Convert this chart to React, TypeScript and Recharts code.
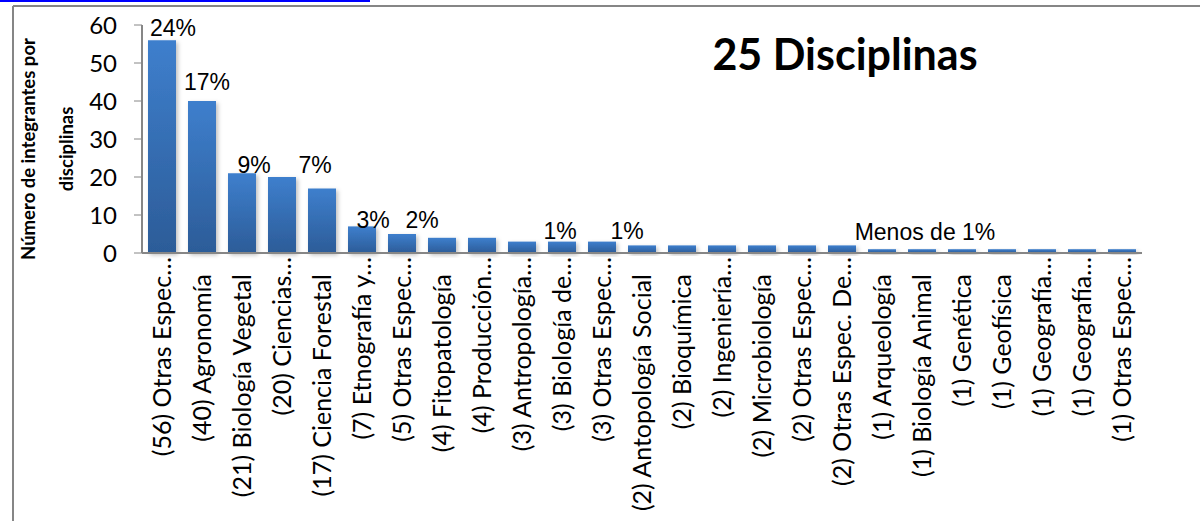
import { BarChart, Bar, XAxis, YAxis, LabelList } from 'recharts';

const disciplines = [
  '(56) Otras Espec…',
  '(40) Agronomía',
  '(21) Biología Vegetal',
  '(20) Ciencias…',
  '(17) Ciencia Forestal',
  '(7) Etnografía y…',
  '(5) Otras Espec…',
  '(4) Fitopatología',
  '(4) Producción…',
  '(3) Antropología…',
  '(3) Biología de…',
  '(3) Otras Espec…',
  '(2) Antopología Social',
  '(2) Bioquímica',
  '(2) Ingeniería…',
  '(2) Microbiología',
  '(2) Otras Espec…',
  '(2) Otras Espec. De…',
  '(1) Arqueología',
  '(1) Biología Animal',
  '(1) Genética',
  '(1) Geofísica',
  '(1) Geografía…',
  '(1) Geografía…',
  '(1) Otras Espec…',
];

const members = [56, 40, 21, 20, 17, 7, 5, 4, 4, 3, 3, 3, 2, 2, 2, 2, 2, 2, 1, 1, 1, 1, 1, 1, 1];

const shareLabels = [
  '24%', '17%', '9%', '', '7%', '3%', '2%', '', '', '', '1%', '1%', '',
  '', '', '', '', '', '', 'Menos de 1%', '', '', '', '', '',
];

const yTicks = [0, 10, 20, 30, 40, 50, 60];

const data = disciplines.map((name, i) => ({ name, value: members[i], share: shareLabels[i] }));

// hand-placed text boxes in the original, nudged off the bar top
const labelNudge: Record<number, [number, number]> = {
  0: [11, -4],
  1: [5, -11],
  2: [12, 0],
  4: [-7, -15],
  5: [11, 2],
  6: [20, -6],
  10: [-2, -3],
  11: [25, -3],
  19: [3, -9],
};

const AXIS = '#868686';
const CAT_FONT = 'Lato, "Open Sans", sans-serif';

function CategoryTick({ x, y, payload }: any) {
  const label: string = payload.value;
  const top = label.endsWith('…') ? y + 2 : y + 19;
  return (
    <text
      x={x}
      y={top}
      dy="0.35em"
      textAnchor="end"
      transform={`rotate(-90, ${x}, ${top})`}
      fontFamily={CAT_FONT}
      fontSize={25}
      fill="#000"
    >
      {label}
    </text>
  );
}

function ShareLabel(props: any) {
  const { x, y, width, value, index } = props;
  if (!value) return null;
  const [dx, dy] = labelNudge[index] ?? [0, -4];
  return (
    <text
      x={x + width / 2 + dx}
      y={y + dy}
      textAnchor="middle"
      fontFamily='"Liberation Sans", Arial, sans-serif'
      fontSize={23}
      fill="#000"
    >
      {value}
    </text>
  );
}

export default function App() {
  return (
    <div style={{ position: 'absolute', left: 0, top: 0, width: 1200, height: 521, overflow: 'hidden', background: '#fff' }}>
      <BarChart
        width={1200}
        height={521}
        data={data}
        margin={{ top: 25, right: 58, bottom: 0, left: 0 }}
        barSize={28}
      >
        <defs>
          <linearGradient id="barFill" x1="0" y1="0" x2="0" y2="1">
            <stop offset="0%" stopColor="#3e7fcd" />
            <stop offset="100%" stopColor="#2c5c98" />
          </linearGradient>
          <filter id="barShadow" x="-20%" y="-20%" width="150%" height="150%">
            <feDropShadow dx="2" dy="2" stdDeviation="2" floodColor="#000" floodOpacity="0.25" />
          </filter>
        </defs>
        <XAxis
          dataKey="name"
          interval={0}
          height={268}
          tickLine={false}
          tickSize={0}
          tick={<CategoryTick />}
          axisLine={{ stroke: AXIS, strokeWidth: 2 }}
        />
        <YAxis
          width={142}
          domain={[0, 60]}
          ticks={yTicks}
          interval={0}
          tickSize={8}
          tickMargin={17}
          tickLine={{ stroke: AXIS }}
          axisLine={{ stroke: AXIS, strokeWidth: 2 }}
          tick={{ fontFamily: CAT_FONT, fontSize: 24, fill: '#000' }}
        />
        <Bar dataKey="value" fill="url(#barFill)" filter="url(#barShadow)" isAnimationActive={false}>
          <LabelList dataKey="share" content={<ShareLabel />} />
        </Bar>
      </BarChart>
      <svg
        width={1200}
        height={521}
        style={{ position: 'absolute', left: 0, top: 0, pointerEvents: 'none' }}
      >
        <rect x={0} y={0} width={370} height={2} fill="#0000ff" />
        <line x1={13} y1={6} x2={1200} y2={6} stroke={AXIS} strokeWidth={2} />
        <line x1={13} y1={6} x2={13} y2={521} stroke={AXIS} strokeWidth={2} />
        <text
          x={845}
          y={70}
          textAnchor="middle"
          fontFamily={CAT_FONT}
          fontWeight="bold"
          fontSize={43}
          fill="#000"
        >
          25 Disciplinas
        </text>
        <g fontFamily={CAT_FONT} fontWeight="bold" fontSize={18.5} fill="#000" textAnchor="middle">
          <text x={29} y={149} dy="0.35em" transform="rotate(-90, 29, 149)">
            Número de integrantes por
          </text>
          <text x={67} y={149} dy="0.35em" transform="rotate(-90, 67, 149)">
            disciplinas
          </text>
        </g>
      </svg>
    </div>
  );
}
